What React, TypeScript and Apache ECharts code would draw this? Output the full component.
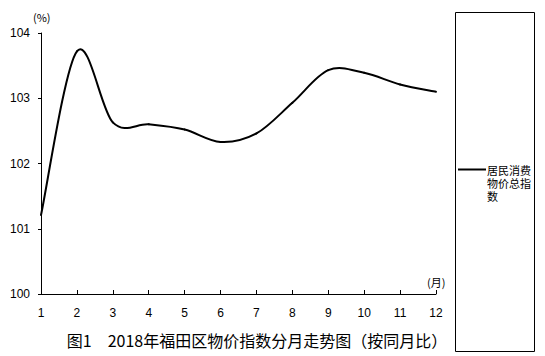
import React, { useEffect, useRef } from "react";
import * as echarts from "echarts";

const months = ["1", "2", "3", "4", "5", "6", "7", "8", "9", "10", "11", "12"];
const cpiValues = [101.21, 103.72, 102.63, 102.6, 102.52, 102.33, 102.46, 102.93, 103.43, 103.39, 103.21, 103.1];
const seriesName = "居民消费物价总指数";
const legendLines = ["居民消费", "物价总指", "数"];
const titleText = "图1　2018年福田区物价指数分月走势图（按同月比）";

export default function App() {
  const ref = useRef<HTMLDivElement>(null);
  useEffect(() => {
    if (!ref.current) return;
    const chart = echarts.init(ref.current, null, { renderer: "svg" });
    const latin = "'Liberation Sans', Arial, sans-serif";
    const cjk = "'Noto Sans CJK SC', sans-serif";
    const n = cpiValues.length;
    chart.setOption({
      animation: false,
      backgroundColor: "#ffffff",
      grid: { left: 41, top: 33, width: 395, height: 261, containLabel: false },
      xAxis: {
        type: "category",
        data: months,
        boundaryGap: false,
        axisLine: { lineStyle: { color: "#000", width: 1 } },
        axisTick: { inside: true, length: 4, lineStyle: { color: "#000" }, alignWithLabel: true },
        axisLabel: { color: "#000", fontSize: 12, fontFamily: latin, margin: 13 },
        splitLine: { show: false },
      },
      yAxis: {
        type: "value",
        min: 100,
        max: 104,
        interval: 1,
        axisLine: { show: true, lineStyle: { color: "#000", width: 1 } },
        axisTick: { show: true, length: 3, lineStyle: { color: "#000" } },
        axisLabel: { color: "#000", fontSize: 12, fontFamily: latin, margin: 11 },
        splitLine: { show: false },
      },
      series: [
        {
          name: seriesName,
          type: "custom",
          data: cpiValues.map((v, i) => [i, v]),
          renderItem: (params: any, api: any) => {
            const i = params.dataIndex;
            if (i >= n - 1) return null;
            const pt = (k: number) => {
              const kk = Math.max(0, Math.min(n - 1, k));
              return api.coord([kk, cpiValues[kk]]);
            };
            const p0 = pt(i - 1);
            const p1 = pt(i);
            const p2 = pt(i + 1);
            const p3 = pt(i + 2);
            const t = 1 / 6;
            const c1 = [p1[0] + (p2[0] - p0[0]) * t, p1[1] + (p2[1] - p0[1]) * t];
            const c2 = [p2[0] - (p3[0] - p1[0]) * t, p2[1] - (p3[1] - p1[1]) * t];
            return {
              type: "bezierCurve",
              shape: {
                x1: p1[0], y1: p1[1],
                cpx1: c1[0], cpy1: c1[1],
                cpx2: c2[0], cpy2: c2[1],
                x2: p2[0], y2: p2[1],
              },
              style: { stroke: "#000", lineWidth: 2, fill: "none", lineCap: "round" },
            };
          },
        },
      ],
      graphic: [
        { type: "text", left: 33, top: 11, style: { text: "(%)", fontSize: 11, fontFamily: cjk, fill: "#000" } },
        { type: "text", left: 427, top: 276, style: { text: "(月)", fontSize: 11, fontFamily: cjk, fill: "#000" } },
        {
          type: "rect",
          shape: { x: 455.5, y: 12.5, width: 79, height: 339 },
          style: { fill: "none", stroke: "#000", lineWidth: 1 },
        },
        {
          type: "line",
          shape: { x1: 458, y1: 169.5, x2: 486, y2: 169.5 },
          style: { stroke: "#000", lineWidth: 2 },
        },
        ...legendLines.map((line, k) => ({
          type: "text",
          x: 487,
          y: 170 + k * 12.8,
          style: { text: line, fontSize: 11, fontFamily: cjk, fill: "#000", verticalAlign: "middle" },
        })),
        {
          type: "text",
          x: 257,
          y: 340,
          style: { text: titleText, fontSize: 16, fontFamily: cjk, fill: "#000", align: "center", verticalAlign: "middle" },
        },
      ],
    });
    return () => chart.dispose();
  }, []);
  return <div ref={ref} style={{ width: 545, height: 356, position: "absolute", left: 0, top: 0 }} />;
}
